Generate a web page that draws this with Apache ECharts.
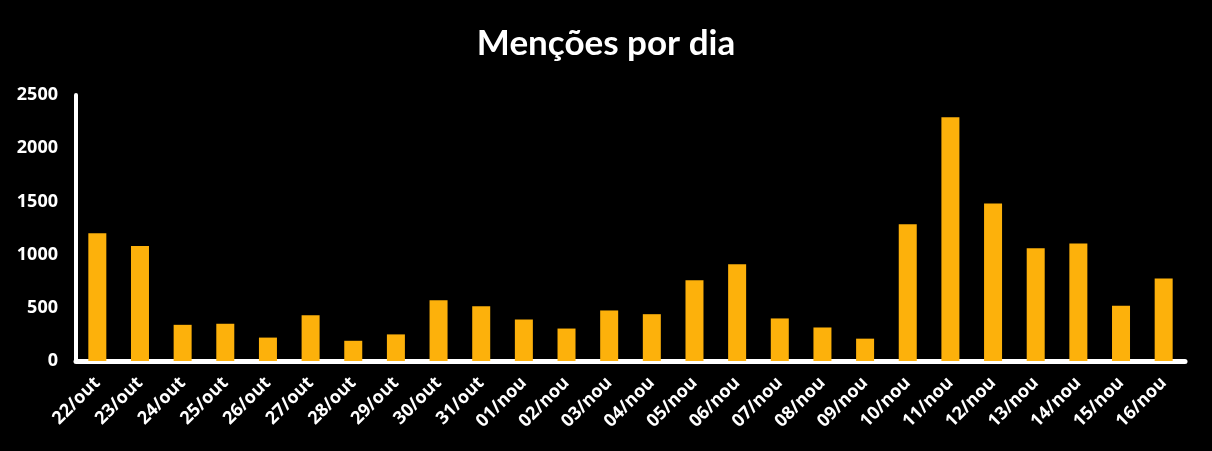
<!DOCTYPE html>
<html><head><meta charset="utf-8">
<script src="https://cdn.jsdelivr.net/npm/echarts@6/dist/echarts.min.js"></script>
<style>html,body{margin:0;padding:0;background:#000;}#c{width:1212px;height:451px;}</style>
</head><body><div id="c"></div>
<script>
const categories = ["22/out","23/out","24/out","25/out","26/out","27/out","28/out","29/out","30/out","31/out","01/nou","02/nou","03/nou","04/nou","05/nou","06/nou","07/nou","08/nou","09/nou","10/nou","11/nou","12/nou","13/nou","14/nou","15/nou","16/nou"];
const mentions = [1200,1080,340,350,220,430,190,250,570,515,390,305,475,440,760,910,400,315,210,1285,2290,1480,1060,1105,520,775];
const yTicks = [0,500,1000,1500,2000,2500];
const title = "Menções por dia";

const chart = echarts.init(document.getElementById('c'), null, {renderer:'canvas'});
chart.setOption({
  backgroundColor:'#000000',
  animation:false,
  title:{text:title,left:'center',top:21,textStyle:{color:'#ffffff',fontFamily:'Lato',fontWeight:'bold',fontSize:35}},
  grid:{left:76,right:27,top:95,bottom:90,containLabel:false},
  xAxis:{type:'category',data:categories,
    axisLine:{lineStyle:{color:'#ffffff',width:5}},
    axisTick:{show:false},
    axisLabel:{color:'#ffffff',fontFamily:'Open Sans',fontWeight:'bold',fontSize:18,rotate:45,interval:0,margin:19}},
  yAxis:{type:'value',min:yTicks[0],max:yTicks[yTicks.length-1],interval:500,
    axisLine:{show:true,lineStyle:{color:'#ffffff',width:4}},
    axisTick:{show:false},splitLine:{show:false},
    axisLabel:{color:'#ffffff',fontFamily:'Open Sans',fontWeight:'bold',fontSize:18,margin:18,padding:[8,0,0,0],
      formatter:function(v){return String(v);}}},
  series:[{type:'bar',data:mentions,barWidth:18,itemStyle:{color:'#FDB10B'}}]
});
</script></body></html>
